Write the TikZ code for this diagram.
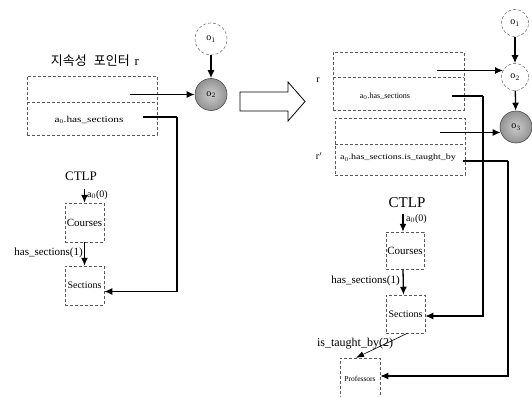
\documentclass[tikz,border=0pt]{standalone}
\usepackage{fontspec}
\setmainfont{Liberation Serif}
\newfontfamily\krfont{Noto Sans CJK KR}
\newfontfamily\widefont[FakeStretch=1.25]{Liberation Serif}
\usetikzlibrary{arrows.meta}
\begin{document}
\begin{tikzpicture}[x=1pt,y=-1pt,
  box/.style={draw=black!65, densely dashed, line width=0.5pt, inner sep=0pt},
  conn/.style={line width=1.3pt, -{Latex[length=8pt,width=7pt]}},
  thinconn/.style={line width=0.6pt, -{Latex[length=8pt,width=6pt]}},
  wire/.style={line width=1.3pt},
  circ/.style={circle, draw=black!60, densely dashed, line width=0.5pt, minimum size=28pt, inner sep=0pt, font=\fontsize{10}{12}\selectfont},
  shd/.style={circle, draw=black!70, line width=0.6pt, inner color=gray!40, outer color=gray!85, minimum size=32pt, inner sep=0pt, font=\fontsize{10}{12}\selectfont},
  lab/.style={inner sep=0pt}]
\useasboundingbox (0,0) rectangle (532,396);

% ---------------- left part ----------------
\node[lab, font=\krfont\fontsize{13}{15}\selectfont] (title) at (95,61) {지속성\hspace{7pt}포인터\hspace{5pt}\fontspec{Liberation Serif}r};
\node[box, minimum width=130pt, minimum height=59pt] (rboxL) at (92,105.5) {};
\draw[box] (rboxL.west |- 0,102) -- (rboxL.east |- 0,102);
\node[lab, font=\widefont\fontsize{9}{11}\selectfont] (hsL) at (89,120) {a$_0$.has\_sections};

\node[shd] (o2L) at (211,94.5) {o$_2$};
\node[circ, minimum size=32pt] (o1L) at (211,39) {o$_1$};
\draw[conn] (o1L) -- (o2L);
\coordinate (pL1) at (130,94.5);
\draw[conn] (pL1) -- (o2L);

\node[lab, font=\fontsize{13}{15}\selectfont] (ctlpL) at (81,176) {CTLP};
\node[box, minimum width=39pt, minimum height=39pt, font=\fontsize{11}{13}\selectfont] (couL) at (84.5,222.5) {Courses};
\node[box, minimum width=39pt, minimum height=39pt, font=\fontsize{10}{12}\selectfont] (secL) at (84.5,285.5) {Sections};
\coordinate (inL) at (84.5,189);
\draw[conn] (inL) -- (couL);
\node[lab, anchor=west, font=\fontsize{10}{12}\selectfont] (a0L) at (87,195) {a$_0$(0)};
\draw[conn] (couL) -- (secL);
\node[lab, anchor=east, font=\fontsize{11}{13}\selectfont] (hs1L) at (83,253) {has\_sections(1)};

\coordinate (pL2) at (143,117);
\coordinate (pL2c) at (177,117);
\draw[wire] (pL2) -- (pL2c);
\draw[conn] (pL2c) |- ([yshift=-6pt]secL.east);

% ---------------- big hollow arrow ----------------
\draw[line width=0.8pt, fill=white] (240,92) -- (288,92) -- (288,82) -- (305,101.5) -- (288,121) -- (288,111) -- (240,111) -- cycle;

% ---------------- right part ----------------
\node[lab, font=\fontsize{10}{12}\selectfont] (rlab) at (318,80) {r};
\node[lab, font=\fontsize{10}{12}\selectfont] (rplab) at (319,156) {r$'$};

\node[box, minimum width=131pt, minimum height=58pt] (rboxR) at (398.5,81) {};
\draw[box] (rboxR.west |- 0,77) -- (rboxR.east |- 0,77);
\node[lab, font=\fontsize{8}{10}\selectfont] (hsR) at (385,96) {a$_0$.has\_sections};

\node[box, minimum width=130pt, minimum height=57pt] (rpboxR) at (400,146.5) {};
\draw[box] (rpboxR.west |- 0,144) -- (rpboxR.east |- 0,144);
\node[lab, font=\widefont\fontsize{8}{10}\selectfont] (hstR) at (398,158) {a$_0$.has\_sections.is\_taught\_by};

\node[circ, minimum size=27pt] (o1R) at (515,23) {o$_1$};
\node[circ, minimum size=27pt] (o2R) at (515,77) {o$_2$};
\node[shd] (o3R) at (516,127) {o$_3$};
\draw[conn] (o1R) -- (o2R);
\draw[conn] (o2R) -- (o3R);

\coordinate (pR1) at (437,70.5);
\draw[conn] (pR1) -- (pR1 -| o2R.150);
\coordinate (pR2) at (440,132.5);
\draw[conn] (pR2) -- (pR2 -| o3R.200);

\node[lab, font=\fontsize{15}{17}\selectfont] (ctlpR) at (407,203) {CTLP};
\node[box, minimum width=38pt, minimum height=37pt, font=\fontsize{11}{13}\selectfont] (couR) at (405,250.5) {Courses};
\node[box, minimum width=39pt, minimum height=38pt, font=\fontsize{10}{12}\selectfont] (secR) at (405.5,314) {Sections};
\node[box, minimum width=40pt, minimum height=42pt, font=\fontsize{7.5}{9}\selectfont] (proR) at (360,379) {Professors};

\coordinate (inR) at (403,214);
\draw[conn] (inR) -- (inR |- couR.north);
\node[lab, anchor=west, font=\fontsize{10}{12}\selectfont] (a0R) at (406,219) {a$_0$(0)};
\draw[conn] ([xshift=-2pt]couR.south) -- ([xshift=-2pt]secR.north);
\node[lab, anchor=east, font=\fontsize{11}{13}\selectfont] (hs1R) at (400,281) {has\_sections(1)};
\draw[thinconn] ([xshift=2pt]secR.south) -- ([xshift=-4pt]proR.north);
\node[lab, font=\fontsize{12}{14}\selectfont] (itbR) at (355,344) {is\_taught\_by(2)};

\coordinate (pR3) at (452,96);
\coordinate (pR3c) at (483,96);
\draw[wire] (pR3) -- (pR3c);
\draw[conn] (pR3c) |- ([yshift=-2pt]secR.east);

\coordinate (pR4) at (463,161);
\coordinate (pR4c) at (508,161);
\draw[wire] (pR4) -- (pR4c);
\draw[conn] (pR4c) |- ([yshift=3pt]proR.east);
\end{tikzpicture}
\end{document}
